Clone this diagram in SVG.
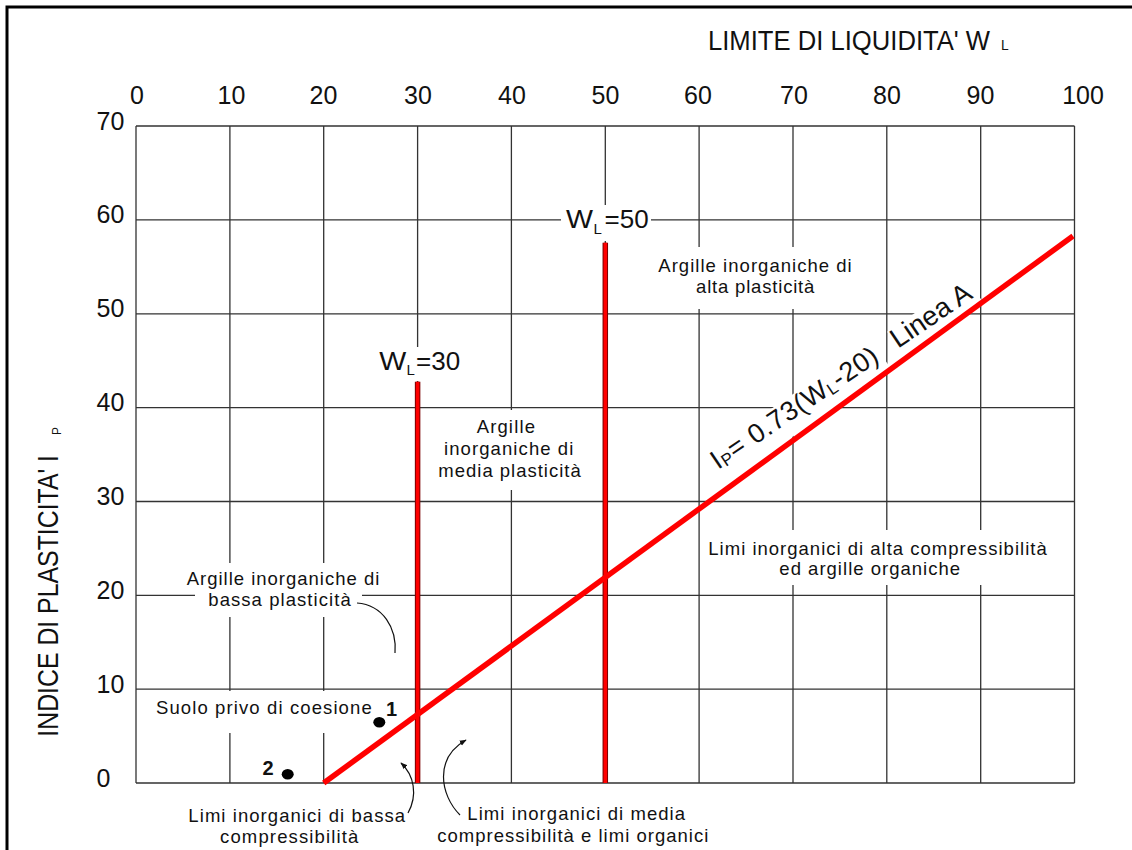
<svg xmlns="http://www.w3.org/2000/svg" width="1132" height="850" viewBox="0 0 1132 850">
<defs>
<style>
text{font-family:"Liberation Sans",Arial,sans-serif;fill:#111}
.tick{font-size:25px}
.tx{text-anchor:middle}
.reg{font-size:18.5px;text-anchor:middle}
.grid{stroke:#333;stroke-width:1.3;fill:none}
.bg{fill:#fff}
.redv{stroke:#7a0000;stroke-width:5.5;fill:none}
.redc{stroke:#ff0000;stroke-width:3.5;fill:none}
.lineA{stroke:#ff0000;stroke-width:5.5;fill:none}
.lead{stroke:#111;stroke-width:1.2;fill:none}
.num{font-size:20px;font-weight:bold}
</style>
<marker id="ah" viewBox="0 0 10 10" refX="9" refY="5" markerWidth="7" markerHeight="7" markerUnits="userSpaceOnUse" orient="auto"><path d="M0,1 L10,5 L0,9 z" fill="#111"/></marker>
</defs>
<rect width="1132" height="850" fill="#fff"/>
<g id="frame"><path d="M7,860 V7 H1140" stroke="#000" stroke-width="3" fill="none"/></g>
<g id="grid">
<path class="grid" d="M136,126 V783 M229.9,126 V783 M323.7,126 V783 M417.6,126 V783 M511.4,126 V783 M605.3,126 V783 M699.1,126 V783 M793,126 V783 M886.8,126 V783 M980.7,126 V783 M1074.5,126 V783 M136,783 H1074.5 M136,689.2 H1074.5 M136,595.3 H1074.5 M136,501.5 H1074.5 M136,407.6 H1074.5 M136,313.8 H1074.5 M136,219.9 H1074.5 M136,126 H1074.5"/>
</g>
<g id="label-gaps">
<rect class="bg" x="561" y="205" width="90" height="36"/>
<rect class="bg" x="374" y="347" width="90" height="34"/>
<rect class="bg" x="650" y="247" width="210" height="62"/>
<rect class="bg" x="432" y="410" width="156" height="80"/>
<rect class="bg" x="702" y="530" width="350" height="55"/>
<rect class="bg" x="195" y="563" width="167" height="54"/>
<rect class="bg" x="150" y="691" width="236" height="42"/>
<g transform="translate(718,470) rotate(-34)">
<rect class="bg" x="-2" y="-21" width="202" height="35"/>
<rect class="bg" x="217.5" y="-20" width="96" height="30"/>
</g>
</g>
<g id="connectors">
<path class="redv" d="M417.6,381.7 V783 M605.3,242.7 V783"/>
<path class="redc" d="M417.6,381.7 V783 M605.3,242.7 V783"/>
<path class="lineA" d="M323.7,783 L1073,236"/>
<path class="lead" d="M357,603 C383,605 397,628 395,653"/>
<path class="lead" d="M408,813 C418,795 414,775 401,763" marker-end="url(#ah)"/>
<path class="lead" d="M460,815 C440,795 434,758 466,740" marker-end="url(#ah)"/>
</g>
<g id="x-axis">
<text transform="translate(708,50) scale(0.916,1)" font-size="28">LIMITE DI LIQUIDITA' W<tspan font-size="15" dx="12">L</tspan></text>
<text class="tick tx" x="137" y="104">0</text>
<text class="tick tx" x="231.5" y="104">10</text>
<text class="tick tx" x="323.5" y="104">20</text>
<text class="tick tx" x="418" y="104">30</text>
<text class="tick tx" x="512" y="104">40</text>
<text class="tick tx" x="605.5" y="104">50</text>
<text class="tick tx" x="698" y="104">60</text>
<text class="tick tx" x="794" y="104">70</text>
<text class="tick tx" x="887" y="104">80</text>
<text class="tick tx" x="980.5" y="104">90</text>
<text class="tick tx" x="1083" y="104">100</text>
</g>
<g id="y-axis">
<text transform="translate(58.3,736.7) rotate(-90)" font-size="29" textLength="281.7" lengthAdjust="spacingAndGlyphs">INDICE DI PLASTICITA' I</text>
<text transform="translate(60.7,435) rotate(-90)" font-size="12">P</text>
<text class="tick" x="96.5" y="129.5">70</text>
<text class="tick" x="96.5" y="223.4">60</text>
<text class="tick" x="96.5" y="317.3">50</text>
<text class="tick" x="96.5" y="411.1">40</text>
<text class="tick" x="96.5" y="505">30</text>
<text class="tick" x="96.5" y="598.8">20</text>
<text class="tick" x="96.5" y="692.7">10</text>
<text class="tick" x="96.5" y="786.5">0</text>
</g>
<g id="wl30">
<text x="379.3" y="370" font-size="26" textLength="27" lengthAdjust="spacingAndGlyphs">W</text>
<text x="406.5" y="375" font-size="15">L</text>
<text x="416" y="370" font-size="26">=30</text>
</g>
<g id="wl50">
<text x="566" y="228.3" font-size="26" textLength="27" lengthAdjust="spacingAndGlyphs">W</text>
<text x="593.5" y="234" font-size="15">L</text>
<text x="604.5" y="228.3" font-size="26">=50</text>
</g>
<g id="linea-a-label" transform="translate(718,470) rotate(-34)">
<text font-size="27" textLength="196" lengthAdjust="spacing">I<tspan font-size="17" dy="2">P</tspan><tspan dy="-2">= 0.73(W</tspan><tspan font-size="17" dy="2">L</tspan><tspan dy="-2">-20)</tspan></text>
<text x="217" font-size="27.5">Linea A</text>
</g>
<g id="region-bassa-plasticita">
<text class="reg" x="283" y="585" textLength="192.6" lengthAdjust="spacing">Argille inorganiche di</text>
<text class="reg" x="279.5" y="606" textLength="142.4" lengthAdjust="spacing">bassa plasticità</text>
</g>
<g id="region-media-plasticita">
<text class="reg" x="505.8" y="432.7" textLength="58.3" lengthAdjust="spacing">Argille</text>
<text class="reg" x="508.7" y="455" textLength="129.3" lengthAdjust="spacing">inorganiche di</text>
<text class="reg" x="509.5" y="477.3" textLength="142.4" lengthAdjust="spacing">media plasticità</text>
</g>
<g id="region-alta-plasticita">
<text class="reg" x="755" y="271.7" textLength="193.4" lengthAdjust="spacing">Argille inorganiche di</text>
<text class="reg" x="755.2" y="293.3" textLength="118.3" lengthAdjust="spacing">alta plasticità</text>
</g>
<g id="region-alta-compressibilita">
<text class="reg" x="877.5" y="555" textLength="338.4" lengthAdjust="spacing">Limi inorganici di alta compressibilità</text>
<text class="reg" x="869.7" y="575" textLength="180.7" lengthAdjust="spacing">ed argille organiche</text>
</g>
<g id="region-bassa-compressibilita">
<text class="reg" x="296.7" y="821.7" textLength="216.7" lengthAdjust="spacing">Limi inorganici di bassa</text>
<text class="reg" x="289.2" y="842.7" textLength="138.3" lengthAdjust="spacing">compressibilità</text>
</g>
<g id="region-media-compressibilita">
<text class="reg" x="576.2" y="820" textLength="217.7" lengthAdjust="spacing">Limi inorganici di media</text>
<text class="reg" x="572.8" y="841.7" textLength="271" lengthAdjust="spacing">compressibilità e limi organici</text>
</g>
<g id="suolo">
<text x="156" y="714.3" font-size="18.5" textLength="215.7" lengthAdjust="spacing">Suolo privo di coesione</text>
</g>
<g id="point-1">
<ellipse cx="379.3" cy="722.3" rx="6" ry="5.3" fill="#000"/>
<text class="num" x="386" y="716">1</text>
</g>
<g id="point-2">
<ellipse cx="287.7" cy="774.3" rx="6" ry="5.3" fill="#000"/>
<text class="num" x="262.5" y="775">2</text>
</g>
</svg>
